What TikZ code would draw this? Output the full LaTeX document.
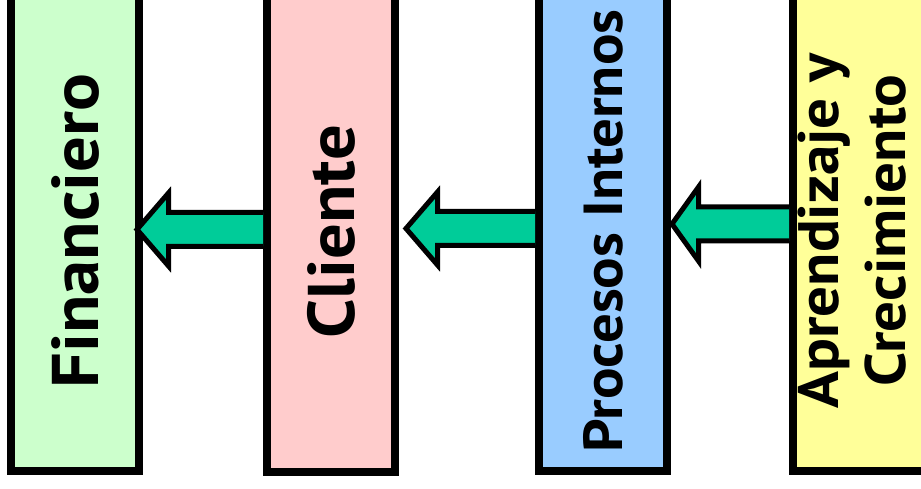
\documentclass[tikz,border=0pt]{standalone}
\usepackage{fontspec}
\setmainfont[FakeStretch=1.07]{PT Sans}
\usepackage{graphicx}
\usepackage{tikz}
\usetikzlibrary{positioning}

\definecolor{verde}{HTML}{CCFFCC}
\definecolor{rosa}{HTML}{FFCCCC}
\definecolor{azul}{HTML}{99CCFF}
\definecolor{amarillo}{HTML}{FFFF99}
\definecolor{flechaverde}{HTML}{00CC99}

\begin{document}
\begin{tikzpicture}[x=1pt, y=1pt,
    caja/.style={draw, line width=8pt, minimum width=128pt, minimum height=480pt,
                 inner sep=0pt, font=\bfseries},
    flecha/.style={draw, line width=5pt, fill=flechaverde, miter limit=10}]
\clip (0,0) rectangle (921,488);

% perspectivas
\node[caja, fill=verde] (financiero) at (75,257)
    {\rotatebox{90}{\fontsize{66}{70}\selectfont Financiero}};
\node[caja, fill=rosa] (cliente) at (331,256)
    {\rotatebox{90}{\fontsize{66}{70}\selectfont Cliente}};
\node[caja, fill=azul] (procesos) at (603,257)
    {\rotatebox{90}{\fontsize{55}{60}\selectfont Procesos Internos}};
\node[caja, fill=amarillo] (aprendizaje) at (859,257)
    {\rotatebox{90}{\fontsize{57}{65}\selectfont
     \begin{tabular}{@{}c@{}}Aprendizaje y\\[2pt]Crecimiento\end{tabular}}};

% flechas de causa-efecto
\filldraw[flecha] ([yshift=19.5pt]cliente.west) -- ++(-94.5,0) -- ++(0,19.5)
    -- ++(-31.5,-36.5) -- ++(31.5,-36.5) -- ++(0,19.5) -- ++(94.5,0);
\filldraw[flecha] ([yshift=19.5pt]procesos.west) -- ++(-97.5,0) -- ++(0,19.5)
    -- ++(-31.5,-36.5) -- ++(31.5,-36.5) -- ++(0,19.5) -- ++(97.5,0);
\filldraw[flecha] ([yshift=24pt]aprendizaje.west) -- ++(-90.5,0) -- ++(0,20)
    -- ++(-26.5,-37) -- ++(26.5,-37) -- ++(0,20) -- ++(90.5,0);
\end{tikzpicture}
\end{document}
